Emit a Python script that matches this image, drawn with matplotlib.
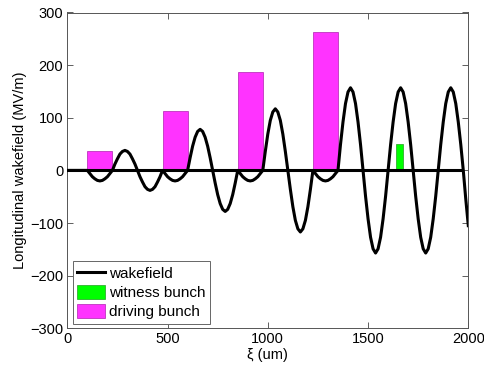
import matplotlib
matplotlib.use("Agg")
import matplotlib.pyplot as plt
from matplotlib.patches import Patch
from matplotlib.lines import Line2D

# ---- data ----
# driving bunches: start position (um), width (um), height (MV/m)
drive_start = [100, 475, 850, 1225]
drive_width = [125, 125, 125, 125]
drive_height = [37.5, 112.5, 187.5, 262.5]

# witness bunch
witness_start = [1640]
witness_width = [35]
witness_height = [50]

# wakefield samples (xi in um, field in MV/m)
wake_xi = [0] + [100 + 12.5 * i for i in range(153)]
wake_val = [0,
    # 100-225 (inside bunch 1)
    0, -6, -12, -16, -19, -20, -19, -16, -12, -6,
    # 225-350
    0, 12, 22, 31, 36, 38, 36, 31, 22, 12,
    # 350-475
    0, -12, -22, -31, -36, -38, -36, -31, -22, -12,
    # 475-600 (inside bunch 2)
    0, -6, -12, -16, -19, -20, -19, -16, -12, -6,
    # 600-725
    0, 24, 46, 63, 74, 78, 74, 63, 46, 24,
    # 725-850
    0, -24, -46, -63, -74, -78, -74, -63, -46, -24,
    # 850-975 (inside bunch 3)
    0, -6, -12, -16, -19, -20, -19, -16, -12, -6,
    # 975-1100
    0, 36, 69, 95, 111, 117, 111, 95, 69, 36,
    # 1100-1225
    0, -36, -69, -95, -111, -117, -111, -95, -69, -36,
    # 1225-1350 (inside bunch 4)
    0, -6, -12, -16, -19, -20, -19, -16, -12, -6,
    # 1350-1475
    0, 49, 92, 127, 149, 157, 149, 127, 92, 49,
    # 1475-1600
    0, -49, -92, -127, -149, -157, -149, -127, -92, -49,
    # 1600-1725
    0, 49, 92, 127, 149, 157, 149, 127, 92, 49,
    # 1725-1850
    0, -49, -92, -127, -149, -157, -149, -127, -92, -49,
    # 1850-1975
    0, 49, 92, 127, 149, 157, 149, 127, 92, 49,
    # 1975-2000
    0, -55, -105,
]

zero_line_x = [0, 1965]
zero_line_y = [0, 0]

x_ticks = [0, 500, 1000, 1500, 2000]
y_ticks = [-300, -200, -100, 0, 100, 200, 300]

plt.rcParams['font.family'] = ['Liberation Sans', 'DejaVu Sans']
plt.rcParams['font.size'] = 10

fig = plt.figure(figsize=(4.85, 3.72), dpi=100)
ax = fig.add_axes([67.3 / 485, 1 - 328.3 / 372, 401 / 485, 315.8 / 372])

magenta = '#ff33ff'
green = '#00ff00'

ax.bar(drive_start, drive_height, width=drive_width, align='edge',
       color=magenta, edgecolor='#b020b0', linewidth=0.5, zorder=2)
ax.bar(witness_start, witness_height, width=witness_width, align='edge',
       color=green, edgecolor='#20a020', linewidth=0.5, zorder=2)
ax.plot(zero_line_x, zero_line_y, color='black', linewidth=2.2, zorder=3)
ax.plot(wake_xi, wake_val, color='black', linewidth=2.2, zorder=4,
        solid_joinstyle='round')

ax.set_xlim(0, 2000)
ax.set_ylim(-300, 300)
ax.set_xticks(x_ticks)
ax.set_yticks(y_ticks)
ax.tick_params(direction='in', top=True, right=True, length=4,
               width=0.6, color='#444444', labelsize=10.5, pad=3)
for s in ax.spines.values():
    s.set_color('#555555')
    s.set_linewidth(0.7)

ax.set_xlabel('ξ (um)', fontsize=10.5, labelpad=1)
ax.set_ylabel('Longitudinal wakefield (MV/m)', fontsize=10.5, labelpad=2)

handles = [
    Line2D([0], [0], color='black', linewidth=2.2),
    Patch(facecolor=green, edgecolor='#20a020', linewidth=0.5),
    Patch(facecolor=magenta, edgecolor='#b020b0', linewidth=0.5),
]
labels = ['wakefield', 'witness bunch', 'driving bunch']
leg = ax.legend(handles, labels, loc='lower left',
                bbox_to_anchor=(0.0135, 0.0136), borderaxespad=0,
                fancybox=False, framealpha=1, edgecolor='#666666',
                handlelength=1.8, handleheight=1.05, handletextpad=0.25,
                labelspacing=0.25, borderpad=0.3, fontsize=11)
leg.get_frame().set_linewidth(0.7)

fig.savefig('out.png', dpi=100)
